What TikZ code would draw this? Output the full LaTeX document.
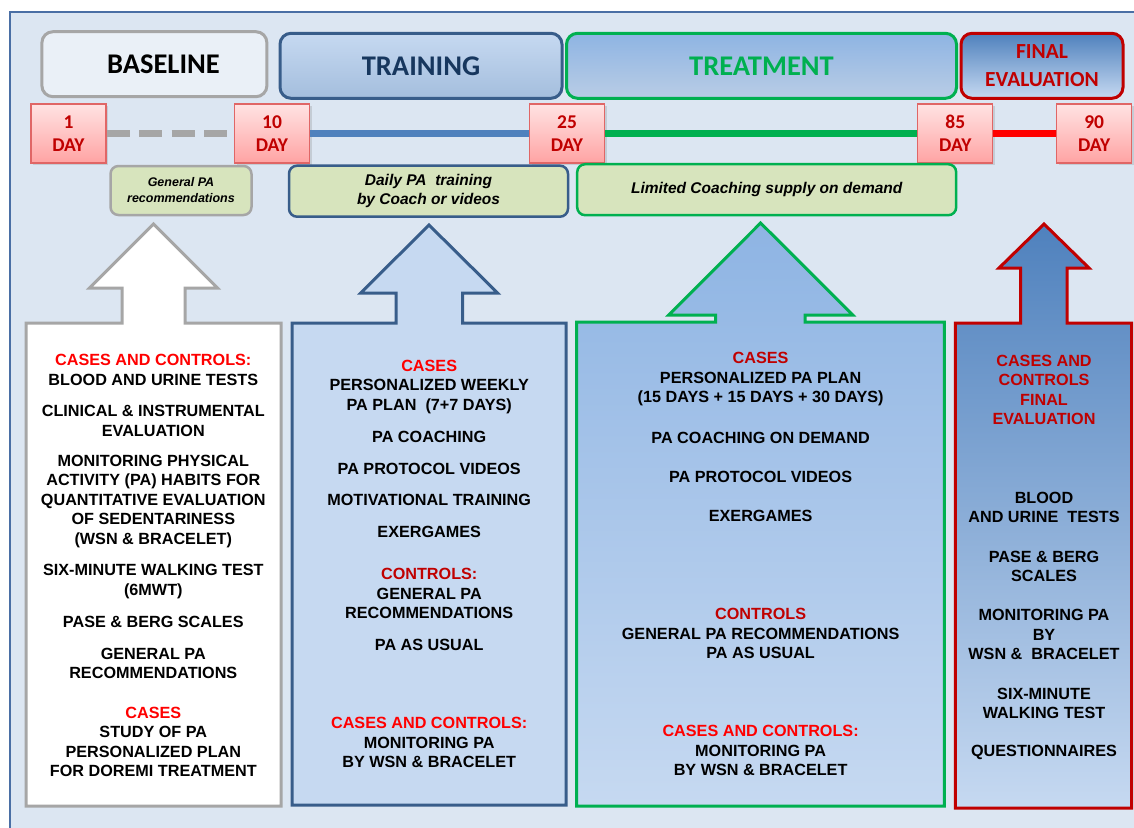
\documentclass[tikz,border=0pt]{standalone}
\usepackage{fontspec}
\setmainfont{Liberation Sans}
\newfontfamily\hdfont{Carlito}
\usetikzlibrary{shadows}

\definecolor{bgblue}{HTML}{DCE6F2}
\definecolor{frameblue}{HTML}{4A6FA5}
\definecolor{navy}{HTML}{385D8A}
\definecolor{darknavy}{HTML}{17375E}
\definecolor{midblue}{HTML}{4F81BD}
\definecolor{paleblue}{HTML}{C6D9F1}
\definecolor{skyblue}{HTML}{8EB4E3}
\definecolor{lightblue}{HTML}{B9CDE5}
\definecolor{okgreen}{HTML}{00B050}
\definecolor{darkred}{HTML}{C00000}
\definecolor{oliveback}{HTML}{D7E4BD}
\definecolor{midgray}{HTML}{A6A6A6}
\definecolor{pinktop}{HTML}{FFE3E3}
\definecolor{pinkbot}{HTML}{FFA3A3}
\definecolor{pinkline}{HTML}{E06666}

\newcommand\txtfont{\bfseries\fontsize{16.2}{19.5}\selectfont}
\newcommand\redtxt[1]{\textcolor{red}{#1}}
\newcommand\drktxt[1]{\textcolor{darkred}{#1}}

\begin{document}
\begin{tikzpicture}[x=1pt,y=-1pt]

      \useasboundingbox (0,0) rectangle (1134,827);
      \fill[white] (0,0) rectangle (1134,827);
      \draw[frameblue,line width=2pt,fill=bgblue] (10,12) rectangle (1150,845);

      \begin{scope}[every node/.style={rounded corners=11pt,line width=3pt,minimum height=65pt,
          font=\hdfont\bfseries\fontsize{28.5}{34}\selectfont}]
        \node[draw=midgray,fill=bgblue!60!white,minimum width=225pt] (base)  at (154.4,64.2) {\hspace*{18pt}BASELINE};
        \node[draw=navy,top color=paleblue,bottom color=lightblue!80!midblue,text=darknavy,
          minimum width=282pt] (train) at (421,65.8) {TRAINING};
        \node[draw=okgreen,top color=skyblue,bottom color=lightblue,text=okgreen,
          minimum width=390pt] (treat) at (761.5,65.8) {TREATMENT};
        \node[draw=darkred,top color=midblue,bottom color=paleblue,text=darkred,minimum width=162pt,
          align=center,font=\hdfont\bfseries\fontsize{21.5}{28}\selectfont] (final) at (1042,65.8) {FINAL\\EVALUATION};
      \end{scope}

      \begin{scope}[every node/.style={draw=pinkline,line width=1.2pt,top color=pinktop,bottom color=pinkbot,
          text=darkred,minimum width=75pt,minimum height=59pt,align=center,inner sep=0pt,
          drop shadow={opacity=0.25,shadow xshift=2pt,shadow yshift=-2pt},
          font=\hdfont\bfseries\fontsize{19.5}{23.5}\selectfont}]
        \node (d1)  at (68.5,133.5)   {1\\DAY};
        \node (d10) at (272,133.5)    {10\\DAY};
        \node (d25) at (567,133.5)    {25\\DAY};
        \node (d85) at (955.3,133.5)  {85\\DAY};
        \node (d90) at (1094.2,133.5) {90\\DAY};
      \end{scope}

      \begin{scope}[every edge/.style={draw,line width=7.5pt}]
        \path (d1)  edge[midgray,dash pattern=on 23pt off 9.5pt] (d10);
        \path (d10) edge[midblue] (d25);
        \path (d25) edge[okgreen] (d85);
        \path (d85) edge[red] (d90);
      \end{scope}

      \begin{scope}[every node/.style={fill=oliveback,rounded corners=8pt,line width=2.5pt,align=center,
          font=\bfseries\itshape\fontsize{15.5}{19.5}\selectfont}]
        \node[draw=midgray,minimum width=141pt,minimum height=49pt,
          font=\bfseries\itshape\fontsize{12.5}{16}\selectfont] (gpa) at (181,190.5) {General PA\\recommendations};
        \node[draw=navy,minimum width=279pt,minimum height=51pt] (daily) at (428.5,191.2) {Daily PA~ training\\by Coach or videos};
        \node[draw=okgreen,minimum width=379pt,minimum height=51pt] (coach) at (766.7,189.7) {Limited Coaching supply on demand};
      \end{scope}

      \begin{scope}[line width=3pt,line join=miter]
        \draw[midgray,fill=white] (26,323) -- (26,806) -- (281,806) -- (281,323) -- (185,323) -- (185,288)
          -- (217.5,288) -- (153.5,224) -- (89.5,288) -- (122,288) -- (122,323) -- cycle;
        \draw[navy,fill=paleblue] (292,323) -- (292,805) -- (566,805) -- (566,323) -- (462.5,323) -- (462.5,293)
          -- (497.6,293) -- (429,225) -- (360.7,293) -- (396,293) -- (396,323) -- cycle;
        \draw[okgreen,top color=skyblue,bottom color=paleblue] (576.5,322) -- (576.5,806) -- (944.3,806) -- (944.3,322)
          -- (805,322) -- (805,315) -- (852.8,315) -- (760.6,223) -- (668.7,315) -- (715.6,315) -- (715.6,322) -- cycle;
        \draw[darkred,top color=midblue,bottom color=paleblue] (955.3,323) -- (955.3,808) -- (1131.5,808) -- (1131.5,323)
          -- (1067,323) -- (1067,268) -- (1089,268) -- (1044,224) -- (999,268) -- (1020.5,268) -- (1020.5,323) -- cycle;
      \end{scope}

      \begin{scope}[every node/.style={align=center,inner sep=0pt,font=\txtfont}]
        \node (t1a) at (153.3,369.8) {\redtxt{CASES AND CONTROLS:}\\BLOOD AND URINE TESTS};
        \node (t1b) at (153.3,420.8) {CLINICAL \& INSTRUMENTAL\\EVALUATION};
        \node (t1c) at (153.3,501.3) {MONITORING PHYSICAL\\ACTIVITY (PA) HABITS FOR\\QUANTITATIVE EVALUATION\\OF SEDENTARINESS\\(WSN \& BRACELET)};
        \node (t1d) at (153.3,581.7) {SIX-MINUTE WALKING TEST\\(6MWT)};
        \node (t1e) at (153.3,622.3) {PASE \& BERG SCALES};
        \node (t1f) at (153.3,663.3) {GENERAL PA\\RECOMMENDATIONS};
        \node (t1g) at (153.3,742)   {\redtxt{CASES}\\STUDY OF PA\\PERSONALIZED PLAN\\FOR DOREMI TREATMENT};

        \node (t2a) at (429.2,387)   {\redtxt{CASES}\\PERSONALIZED WEEKLY\\PA PLAN~ (7+7 DAYS)};
        \node (t2b) at (429.2,437.3) {PA COACHING};
        \node (t2c) at (429.2,469.3) {PA PROTOCOL VIDEOS};
        \node (t2d) at (429.2,500)   {MOTIVATIONAL TRAINING};
        \node (t2e) at (429.2,531.7) {EXERGAMES};
        \node (t2f) at (429.2,593.7) {\drktxt{CONTROLS:}\\GENERAL PA\\RECOMMENDATIONS};
        \node (t2g) at (429.2,645.3) {PA AS USUAL};
        \node (t2h) at (429.2,742.8) {\redtxt{CASES AND CONTROLS:}\\MONITORING PA\\BY WSN \& BRACELET};

        \node (t3a) at (760.6,379.2) {\drktxt{CASES}\\PERSONALIZED PA PLAN\\(15 DAYS + 15 DAYS + 30 DAYS)};
        \node (t3b) at (760.6,438.3) {PA COACHING ON DEMAND};
        \node (t3c) at (760.6,477.3) {PA PROTOCOL VIDEOS};
        \node (t3d) at (760.6,516)   {EXERGAMES};
        \node (t3e) at (760.6,633.8) {\drktxt{CONTROLS}\\GENERAL PA RECOMMENDATIONS\\PA AS USUAL};
        \node (t3f) at (760.6,750.5) {\redtxt{CASES AND CONTROLS:}\\MONITORING PA\\BY WSN \& BRACELET};

        \node[text=darkred] (t4a) at (1044,389.7) {CASES AND\\CONTROLS\\FINAL\\EVALUATION};
        \node (t4b) at (1044,507.3) {BLOOD\\AND URINE~ TESTS};
        \node (t4c) at (1044,566.3) {PASE \& BERG\\SCALES};
        \node (t4d) at (1044,634.7) {MONITORING PA\\BY\\WSN \&~ BRACELET};
        \node (t4e) at (1044,703.3) {SIX-MINUTE\\WALKING TEST};
        \node (t4f) at (1044,752.3) {QUESTIONNAIRES};
      \end{scope}

    \end{tikzpicture}
\end{document}
